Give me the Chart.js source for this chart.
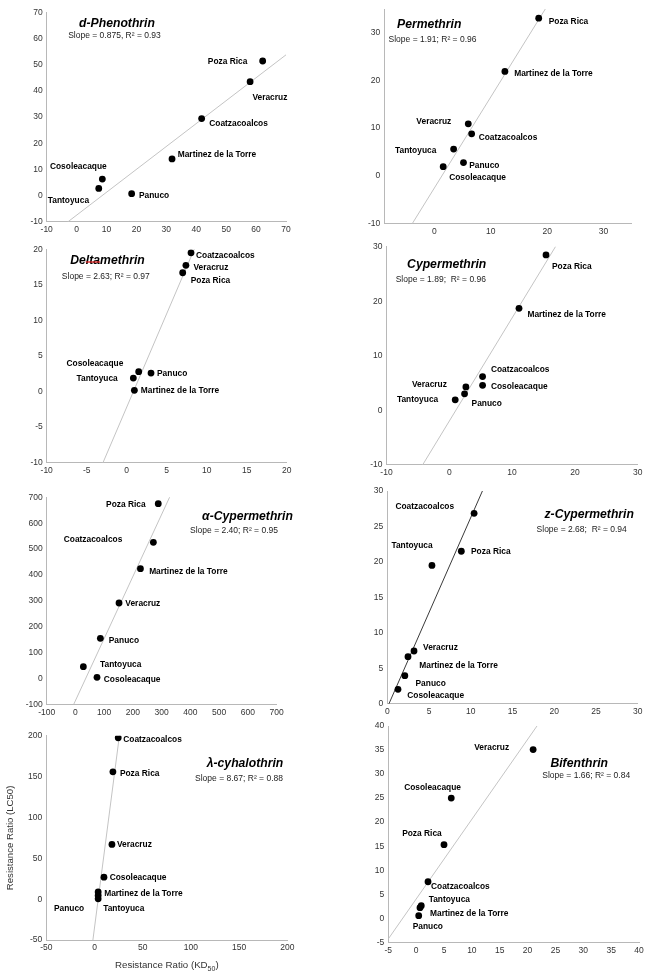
<!DOCTYPE html>
<html><head><meta charset="utf-8">
<script src="https://cdn.jsdelivr.net/npm/chart.js@4"></script>
<style>
html,body{margin:0;padding:0;background:#fff;}
#wrap{position:relative;width:650px;height:980px;overflow:hidden;background:#fff;}
#wrap canvas{position:absolute;left:0;top:0;}
</style></head><body><div id="wrap"></div>
<script>
// ---------- DATA ----------
const sites = ["Poza Rica","Veracruz","Coatzacoalcos","Martinez de la Torre","Cosoleacaque","Tantoyuca","Panuco"];
const insecticides = ["d-Phenothrin","Permethrin","Deltamethrin","Cypermethrin","\u03B1-Cypermethrin","z-Cypermethrin","\u03BB-cyhalothrin","Bifenthrin"];

// Resistance ratios (KD50 on x, LC50 on y), in the order of `sites`
const dPhenothrinKD = [62.2, 58.0, 41.8, 31.9, 8.6, 7.4, 18.4];
const dPhenothrinLC = [51.4, 43.5, 29.4, 14.0, 6.3, 2.7, 0.7];
const permethrinKD = [18.5, 6.0, 6.6, 12.5, 1.55, 3.4, 5.15];
const permethrinLC = [33.1, 10.9, 8.8, 21.9, 1.9, 5.6, 2.75];
const deltamethrinKD = [7.0, 7.4, 8.04, 0.96, 1.5, 0.83, 3.04];
const deltamethrinLC = [16.7, 17.75, 19.5, 0.17, 2.8, 1.9, 2.6];
const cypermethrinKD = [15.4, 2.64, 5.3, 11.1, 5.3, 0.94, 2.43];
const cypermethrinLC = [28.5, 4.3, 6.2, 18.7, 4.6, 1.95, 3.05];
const alphaCypermethrinKD = [288, 151.6, 271, 226, 75, 27.5, 86.7];
const alphaCypermethrinLC = [675.5, 291.5, 526, 424, 4.1, 45.4, 155];
const zetaCypermethrinKD = [8.87, 3.2, 10.4, 2.48, 1.28, 5.35, 2.1];
const zetaCypermethrinLC = [21.5, 7.43, 26.85, 6.63, 2.03, 19.5, 3.95];
const lambdaCyhalothrinKD = [19.1, 18.1, 24.6, 3.8, 9.8, 3.8, 3.8];
const lambdaCyhalothrinLC = [155.9, 67, 197.5, 8.9, 26.9, 0.4, 4.5];
const bifenthrinKD = [5.0, 21.0, 2.13, 0.69, 6.3, 0.92, 0.46];
const bifenthrinLC = [15.3, 35.1, 7.6, 2.2, 25.0, 2.6, 0.54];

const kdSeries = [dPhenothrinKD, permethrinKD, deltamethrinKD, cypermethrinKD, alphaCypermethrinKD, zetaCypermethrinKD, lambdaCyhalothrinKD, bifenthrinKD];
const lcSeries = [dPhenothrinLC, permethrinLC, deltamethrinLC, cypermethrinLC, alphaCypermethrinLC, zetaCypermethrinLC, lambdaCyhalothrinLC, bifenthrinLC];

// regression annotations and drawn fit lines
const slopeLabels = ["Slope = 0.875, R\u00B2 = 0.93","Slope = 1.91; R\u00B2 = 0.96","Slope = 2.63; R\u00B2 = 0.97","Slope = 1.89;  R\u00B2 = 0.96","Slope = 2.40; R\u00B2 = 0.95","Slope = 2.68;  R\u00B2 = 0.94","Slope = 8.67; R\u00B2 = 0.88","Slope = 1.66; R\u00B2 = 0.84"];
const fitSlopes = [0.875, 1.91, 2.63, 1.89, 2.40, 2.68, 9.1, 1.66];
const fitIntercepts = [-7.5, -2.55, -2.2, -1.95, -85.6, -0.54, -34.9, 4.0];

// axes
const xRanges = [[-10,70],[-8.9,35],[-10,20],[-10,30],[-100,700],[0,30],[-50,200],[-5,40]];
const yRanges = [[-10,70],[-10,35],[-10,20],[-10,30],[-100,700],[0,30],[-50,200],[-5,40]];
const xTickLabels = [
  [-10,0,10,20,30,40,50,60,70],
  [0,10,20,30],
  [-10,-5,0,5,10,15,20],
  [-10,0,10,20,30],
  [-100,0,100,200,300,400,500,600,700],
  [0,5,10,15,20,25,30],
  [-50,0,50,100,150,200],
  [-5,0,5,10,15,20,25,30,35,40]
];
const yTickLabels = [
  [-10,0,10,20,30,40,50,60,70],
  [-10,0,10,20,30],
  [-10,-5,0,5,10,15,20],
  [-10,0,10,20,30],
  [-100,0,100,200,300,400,500,600,700],
  [0,5,10,15,20,25,30],
  [-50,0,50,100,150,200],
  [-5,0,5,10,15,20,25,30,35,40]
];
const xAxisTitle = "Resistance Ratio (KD";
const xAxisTitleSub = "50";
const yAxisTitle = "Resistance Ratio (LC50)";

// ---------- LAYOUT (positions / styles) ----------
const plotBoxes = [
  [46.7,12.3,286,221.7],[384.3,5,631.7,223.3],
  [46.7,249.3,286.7,462.7],[386.5,246.7,637.7,465],
  [46.7,497.3,276.7,704.3],[387.3,491,637.7,703.7],
  [46.3,735.8,287.3,940],[388.3,726,639,942.3]
];
const titlePos = [[117,23.5],[429.2,25],[107.5,261],[446.7,265],[247.5,516.7],[589.2,515],[245,764],[579.2,763.3]];
const slopePos = [[114.5,36],[432.5,40],[105.8,277],[440.8,280],[234,531],[581.7,530],[239,778.3],[586.2,776]];
const labelOffsets = [
  [[-15.3,0.7,'r'],[2.3,15.7,'l'],[7.6,5.3,'l'],[5.7,-4.3,'l'],[4.4,-12.3,'r'],[-9.7,12,'r'],[7.3,1.6,'l']],
  [[10,4,'l'],[-17,-1.7,'r'],[7,4,'l'],[9.3,2,'l'],[6,10.7,'l'],[-17.3,1.7,'r'],[5.7,3,'l']],
  [[8,8.3,'l'],[7.6,2.7,'l'],[5,3,'l'],[6.4,0.4,'l'],[-15.4,-8,'r'],[-15.6,0.7,'r'],[6,0.3,'l']],
  [[6,12,'l'],[-19,-2,'r'],[8.3,-6.7,'l'],[8.4,6.4,'l'],[8.3,1,'l'],[-17,-0.3,'r'],[7,10,'l']],
  [[-12.6,0.6,'r'],[6.3,0.3,'l'],[-31,-2.6,'r'],[8.7,3.3,'l'],[6.7,2.7,'l'],[16.7,-1.7,'l'],[8.4,2.7,'l']],
  [[9.7,0.7,'l'],[9,-3.7,'l'],[-20,-6.6,'r'],[11.3,8.6,'l'],[9.3,6.7,'l'],[0.7,-19.3,'r'],[10.7,7.6,'l']],
  [[7,2.3,'l'],[5,0.4,'l'],[5,2.3,'l'],[6,1.3,'l'],[5.7,0.7,'l'],[5,10.3,'l'],[-14,13,'r']],
  [[-2.3,-11,'r'],[-24,-2,'r'],[3,5,'l'],[10,6.3,'l'],[9.7,-10.6,'r'],[7.4,-6.4,'l'],[-6,11.3,'l']]
];
const lineColors = ['#c4c4c4','#c4c4c4','#c4c4c4','#c4c4c4','#c4c4c4','#3a3a3a','#c4c4c4','#c4c4c4'];
const FONT = '"Liberation Sans", Arial, Helvetica, sans-serif';
const W = 650, H = 980;

function makeAnnot(i){
  return {
    id: 'annot' + i,
    afterDatasetsDraw(chart){
      const ctx = chart.ctx, xs = chart.scales.x, ys = chart.scales.y;
      ctx.save();
      ctx.textBaseline = 'middle';
      ctx.fillStyle = '#000';
      ctx.font = 'bold 8.4px ' + FONT;
      sites.forEach((s, k) => {
        const px = xs.getPixelForValue(kdSeries[i][k]);
        const py = ys.getPixelForValue(lcSeries[i][k]);
        const o = labelOffsets[i][k];
        ctx.textAlign = o[2] === 'r' ? 'right' : 'left';
        ctx.fillText(s, px + o[0], py + o[1]);
      });
      ctx.textAlign = 'center';
      ctx.font = 'italic bold 12.2px ' + FONT;
      ctx.fillText(insecticides[i], titlePos[i][0], titlePos[i][1]);
      if (i === 2) {
        const w = ctx.measureText(insecticides[i]).width;
        const left = titlePos[i][0] - w / 2;
        const a = ctx.measureText('De').width, b = ctx.measureText('Delta').width;
        ctx.strokeStyle = '#d81e1e'; ctx.lineWidth = 1.3;
        ctx.beginPath(); ctx.moveTo(left + a, titlePos[i][1] + 1); ctx.lineTo(left + b, titlePos[i][1] + 1); ctx.stroke();
      }
      ctx.fillStyle = '#222';
      ctx.font = '8.5px ' + FONT;
      ctx.fillText(slopeLabels[i], slopePos[i][0], slopePos[i][1]);
      if (i === 6) {
        ctx.fillStyle = '#333';
        // x axis title with subscript
        ctx.font = '9.7px ' + FONT;
        const w1 = ctx.measureText(xAxisTitle).width;
        ctx.font = '7px ' + FONT;
        const w2 = ctx.measureText(xAxisTitleSub).width;
        ctx.font = '9.7px ' + FONT;
        const w3 = ctx.measureText(')').width;
        const cx = (chart.chartArea.left + chart.chartArea.right) / 2;
        let x0 = cx - (w1 + w2 + w3) / 2;
        const ty = 965.5;
        ctx.textAlign = 'left';
        ctx.fillText(xAxisTitle, x0, ty);
        ctx.font = '7px ' + FONT;
        ctx.fillText(xAxisTitleSub, x0 + w1, ty + 3.5);
        ctx.font = '9.7px ' + FONT;
        ctx.fillText(')', x0 + w1 + w2, ty);
        // y axis title
        ctx.save();
        ctx.translate(10.5, (chart.chartArea.top + chart.chartArea.bottom) / 2);
        ctx.rotate(-Math.PI / 2);
        ctx.textAlign = 'center';
        ctx.font = '9.6px ' + FONT;
        ctx.fillText(yAxisTitle, 0, 0);
        ctx.restore();
      }
      ctx.restore();
    }
  };
}

const wrap = document.getElementById('wrap');
for (let i = 0; i < 8; i++) {
  const cv = document.createElement('canvas');
  cv.width = W; cv.height = H;
  cv.style.width = W + 'px'; cv.style.height = H + 'px';
  wrap.appendChild(cv);
  const [L, T, R, B] = plotBoxes[i];
  const pts = kdSeries[i].map((x, k) => ({ x: x, y: lcSeries[i][k] }));
  const xr = xRanges[i], yr = yRanges[i];
  const fit = [xr[0], xr[1]].map(x => ({ x: x, y: fitSlopes[i] * x + fitIntercepts[i] }));
  new Chart(cv, {
    type: 'scatter',
    data: {
      datasets: [
        { data: pts, backgroundColor: '#000', borderColor: '#000', pointRadius: 3.4, pointBorderWidth: 0, order: 0 },
        { data: fit, showLine: true, pointRadius: 0, borderColor: lineColors[i], borderWidth: 1, fill: false, order: 1 }
      ]
    },
    options: {
      responsive: false, animation: false, events: [],
      layout: { padding: { left: L - 30, top: T, right: W - R, bottom: H - B - 20 } },
      plugins: { legend: { display: false }, tooltip: { enabled: false }, title: { display: false } },
      scales: {
        x: {
          type: 'linear', min: xr[0], max: xr[1],
          grid: { display: false, drawTicks: false },
          border: { display: true, color: '#b8b8b8', width: 1 },
          ticks: { autoSkip: false, maxRotation: 0, padding: 3, color: '#333', font: { family: FONT, size: 8.5 }, callback: v => String(v) },
          afterBuildTicks: s => { s.ticks = xTickLabels[i].map(v => ({ value: v })); },
          afterFit: s => { s.height = 20; }
        },
        y: {
          type: 'linear', min: yr[0], max: yr[1],
          grid: { display: false, drawTicks: false },
          border: { display: true, color: '#b8b8b8', width: 1 },
          ticks: { autoSkip: false, padding: 4, color: '#333', font: { family: FONT, size: 8.5 }, callback: v => String(v) },
          afterBuildTicks: s => { s.ticks = yTickLabels[i].map(v => ({ value: v })); },
          afterFit: s => { s.width = 30; }
        }
      }
    },
    plugins: [makeAnnot(i)]
  });
}
</script></body></html>
